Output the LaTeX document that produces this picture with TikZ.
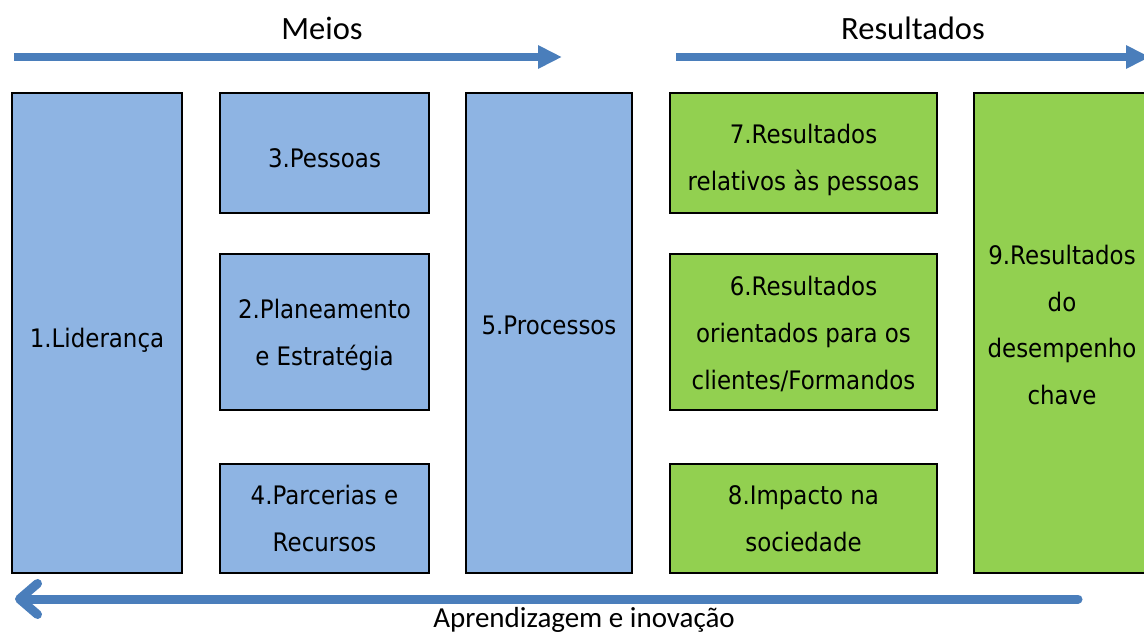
\documentclass[tikz,border=0pt]{standalone}
\usepackage{fontspec}
\setmainfont{DejaVu Sans}[FakeStretch=0.9]
\newfontfamily\titlefont{Carlito}
\usepackage{tikz}
\usetikzlibrary{arrows.meta}

\definecolor{meioblue}{HTML}{8EB4E3}
\definecolor{resgreen}{HTML}{92D050}
\definecolor{setablue}{HTML}{4A7EBB}

\tikzset{
  caixa/.style={draw=black, line width=0.04cm, inner sep=0pt},
  meiobox/.style={caixa, fill=meioblue},
  resbox/.style={caixa, fill=resgreen},
  texto/.style={align=center, inner sep=0pt, font=\fontsize{14.5}{26.7}\selectfont},
  seta/.style={draw=setablue, line width=0.16cm,
    -{Triangle[length=0.48cm,width=0.44cm]}},
  setavolta/.style={draw=setablue, line width=0.18cm, line cap=round,
    -{Straight Barb[length=0.36cm,width=0.62cm,round]}},
  titulo/.style={font=\titlefont\fontsize{18.5}{22}\selectfont, anchor=base},
  rodape/.style={font=\titlefont\fontsize{16.5}{19}\selectfont, anchor=base}
}

\begin{document}
\begin{tikzpicture}
\useasboundingbox (0,0) rectangle (22.88,12.66);

\node[titulo] (meios) at (6.44, 11.86) {Meios};
\node[titulo] (resultados) at (18.26, 11.86) {Resultados};

\coordinate (m0) at (0.28, 11.52);
\coordinate (m1) at (11.24, 11.52);
\coordinate (r0) at (13.52, 11.52);
\coordinate (r1) at (23.0, 11.52);

\draw[seta] (m0) -- (m1);
\draw[seta] (r0) -- (r1);

% meios
\node[meiobox, minimum width=3.4cm, minimum height=9.6cm] (lid) at (1.94, 6) {};
\node[meiobox, minimum width=4.18cm, minimum height=2.4cm] (pes) at (6.49, 9.6) {};
\node[meiobox, minimum width=4.18cm, minimum height=3.12cm] (pla) at (6.49, 6.02) {};
\node[meiobox, minimum width=4.18cm, minimum height=2.18cm] (par) at (6.49, 2.29) {};
\node[meiobox, minimum width=3.32cm, minimum height=9.6cm] (pro) at (10.98, 6) {};

\node[texto] (lidt) at ([yshift=-0.14cm]lid.center) {1.Liderança};
\node[texto] (pest) at ([yshift=-0.1cm]pes.center) {3.Pessoas};
\node[texto] (plat) at ([yshift=-0.06cm]pla.center) {2.Planeamento\\e Estratégia};
\node[texto] (part) at (par.center) {4.Parcerias e\\Recursos};
\node[texto] (prot) at ([yshift=0.16cm]pro.center) {5.Processos};

% resultados
\node[resbox, minimum width=5.34cm, minimum height=2.4cm] (rpes) at (16.07, 9.6) {};
\node[resbox, minimum width=5.34cm, minimum height=3.12cm] (rcli) at (16.07, 6.02) {};
\node[resbox, minimum width=5.34cm, minimum height=2.18cm] (rsoc) at (16.07, 2.29) {};
\node[resbox, minimum width=3.52cm, minimum height=9.6cm] (rdes) at (21.24, 6) {};

\node[texto] (rpest) at ([yshift=-0.14cm]rpes.center) {7.Resultados\\relativos às pessoas};
\node[texto] (rclit) at ([yshift=-0.04cm]rcli.center) {6.Resultados\\orientados para os\\clientes/Formandos};
\node[texto] (rsoct) at (rsoc.center) {8.Impacto na\\sociedade};
\node[texto] (rdest) at ([yshift=0.16cm]rdes.center) {9.Resultados\\do\\desempenho\\chave};

\coordinate (a0) at (21.56, 0.68);
\coordinate (a1) at (0.3, 0.68);
\draw[setavolta] (a0) -- (a1);

\node[rodape] (apr) at (11.68, 0.12) {Aprendizagem e inovação};
\end{tikzpicture}
\end{document}
